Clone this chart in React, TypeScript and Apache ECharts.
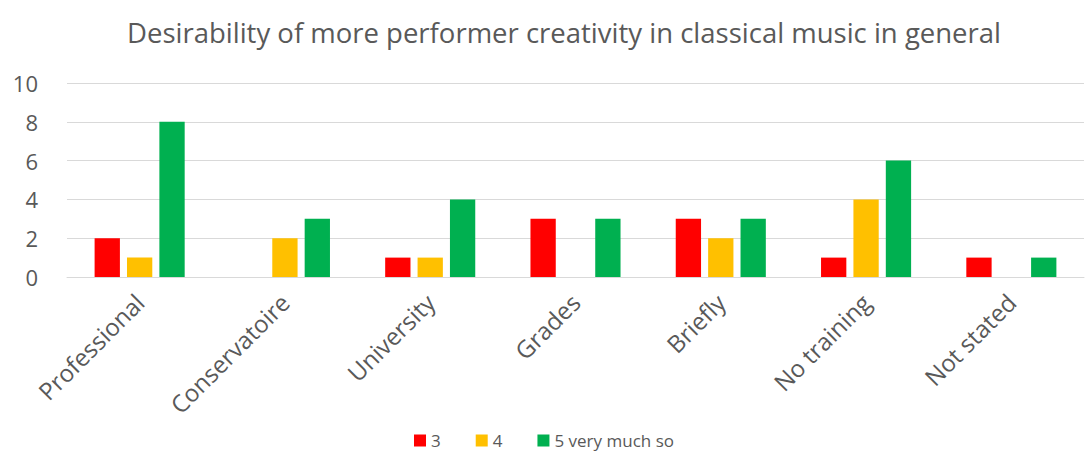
import React, { useEffect, useRef } from "react";
import * as echarts from "echarts";

const categories = ["Professional", "Conservatoire", "University", "Grades", "Briefly", "No training", "Not stated"];
const seriesNames = ["3", "4", "5 very much so"];
const values3 = [2, 0, 1, 3, 3, 1, 1];
const values4 = [1, 2, 1, 0, 2, 4, 0];
const values5 = [8, 3, 4, 3, 3, 6, 1];
const colors = ["#ff0000", "#ffc000", "#00b050"];
const title = "Desirability of more performer creativity in classical music in general";

export default function App() {
  const ref = useRef<HTMLDivElement>(null);
  useEffect(() => {
    if (!ref.current) return;
    const chart = echarts.init(ref.current, null, { renderer: "svg" });
    const toData = (arr: number[]) => arr.map((v) => (v === 0 ? null : v));
    const font = "'Open Sans', sans-serif";
    chart.setOption({
      animation: false,
      textStyle: { fontFamily: font },
      title: {
        text: title,
        left: 122,
        top: 13,
        textStyle: { fontFamily: font, fontSize: 27.5, fontWeight: "normal", color: "#595959" },
      },
      legend: {
        bottom: 3,
        left: 409,
        itemWidth: 12,
        itemHeight: 12,
        itemGap: 35,
        icon: "rect",
        textStyle: { fontFamily: font, fontSize: 17, color: "#595959" },
        data: seriesNames,
      },
      grid: { left: 67, right: 6, top: 83, bottom: 180, containLabel: false },
      xAxis: {
        type: "category",
        data: categories,
        axisTick: { show: false },
        axisLine: { lineStyle: { color: "#d9d9d9" } },
        axisLabel: {
          rotate: 45,
          interval: 0,
          fontFamily: font,
          fontSize: 24,
          color: "#595959",
          margin: 21,
        },
      },
      yAxis: {
        type: "value",
        min: 0,
        max: 10,
        interval: 2,
        axisLine: { show: false },
        axisTick: { show: false },
        splitLine: { lineStyle: { color: "#d9d9d9" } },
        axisLabel: { fontFamily: font, fontSize: 22, color: "#595959", margin: 29 },
      },
      series: [values3, values4, values5].map((vals, i) => ({
        name: seriesNames[i],
        type: "bar",
        data: toData(vals),
        barGap: "28%",
        barCategoryGap: "38%",
        itemStyle: { color: colors[i] },
      })),
    });
    return () => chart.dispose();
  }, []);
  return <div ref={ref} style={{ position: "absolute", left: 0, top: 0, width: 1090, height: 457 }} />;
}
